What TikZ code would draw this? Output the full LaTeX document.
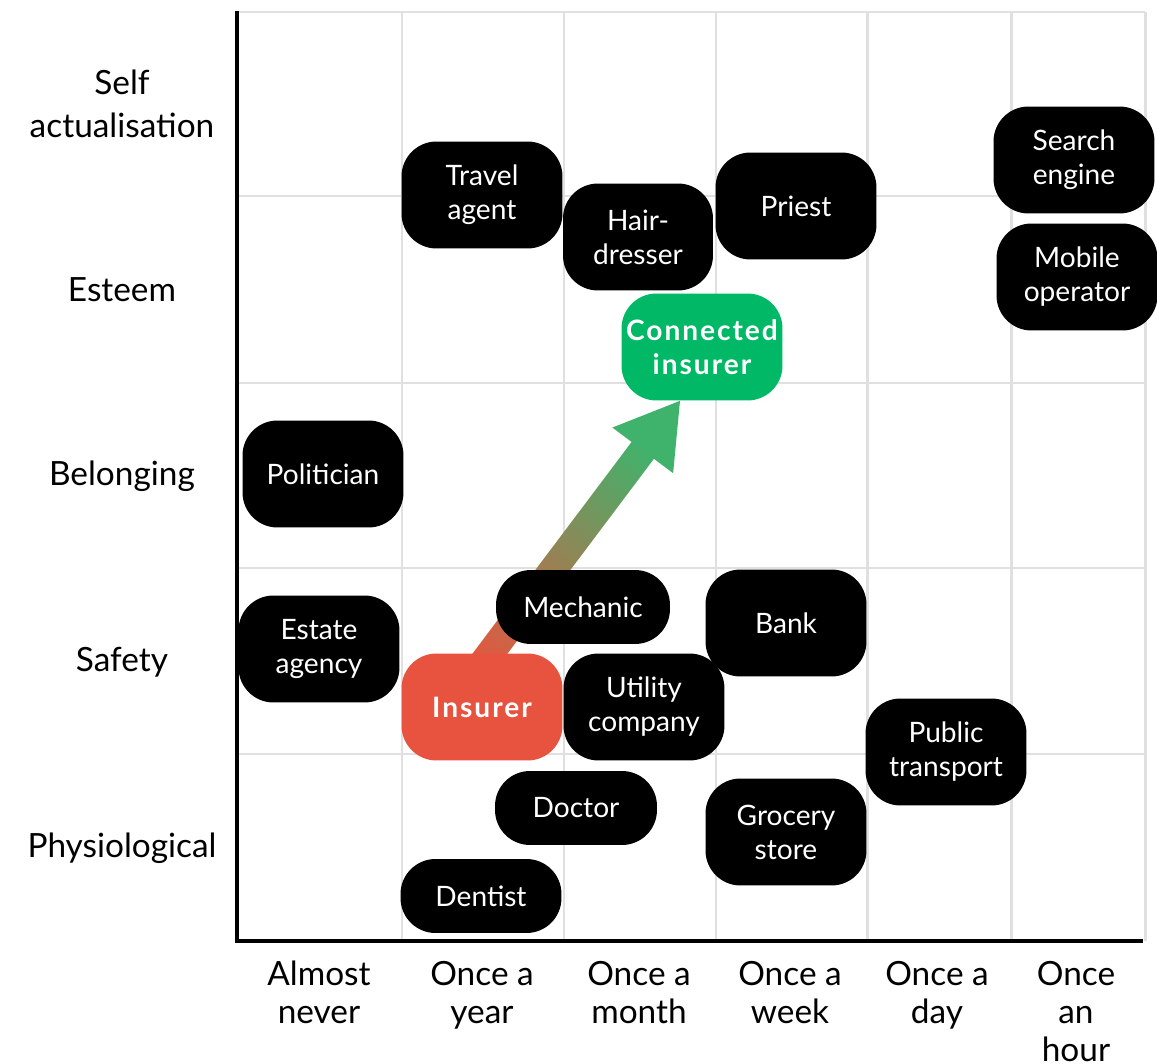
\documentclass[tikz,border=0pt]{standalone}
\usepackage{fontspec}
\setmainfont{Lato}
\newfontfamily\spacedfont[LetterSpace=7]{Lato}
\usepackage{tikz}
\usetikzlibrary{calc,backgrounds}
\definecolor{insurerred}{HTML}{E8533F}
\definecolor{connectgreen}{HTML}{00B865}
\definecolor{gridgrey}{HTML}{E0E0E0}
\definecolor{arrowred}{HTML}{E4573F}
\definecolor{arrowgreen}{HTML}{3FB36C}
\tikzset{
	% Three box styles for the chart: black, red and green
	actor node/.style={rectangle,rounded corners=0.7cm,fill=black,text=white,align=center,
		minimum width=3.22cm,minimum height=2.14cm,inner sep=0,
		font=\fontsize{16}{19.3}\selectfont},
	insurer node/.style={actor node,fill=insurerred,font=\spacedfont\bfseries\fontsize{16}{19.3}\selectfont},
	connected node/.style={actor node,fill=connectgreen,font=\spacedfont\bfseries\fontsize{16}{19.3}\selectfont},
	short node/.style={minimum height=1.48cm},
	axis label/.style={align=center,inner sep=0,font=\fontsize{19}{21.5}\selectfont},
	grid line/.style={draw=gridgrey,line width=1.7pt},
	axis line/.style={draw=black,line width=2.8pt}
}

\begin{document}
\begin{tikzpicture}[x=0.02cm,y=-0.02cm]
			% macros for the labels on both axes
			\newcommand{\levellabel}[3]{\node[axis label](#1)at(122,#2){#3};}
			\newcommand{\freqlabel}[3]{\node[axis label,anchor=north](#1)at(#2,961){#3};}
			\useasboundingbox (0,0) rectangle (1157,1064);
			
			% the two boxes that the arrow joins
			\node(insurer)[insurer node] at (482,707){Insurer};
			\node(connected)[connected node] at (702,347){Connected\\insurer};
			
			\begin{scope}[on background layer]
				% grid
				\foreach \x in {402,564,716,867,1011,1145}
					\draw[grid line] (\x,12) -- (\x,941);
				\foreach \y in {12,196,383,568,754}
					\draw[grid line] (237,\y) -- (1145,\y);
				
				% shaded arrow from insurer to connected insurer
				\coordinate (tip) at ($(connected.south)+(-22,0)$);
				\coordinate (tail) at ($(insurer.north)+(-27,47)$);
				\coordinate (neck) at ($(tip)!1.24cm!(tail)$);
				\shade[bottom color=arrowred,top color=arrowgreen,shading angle=-37]
					($(tail)!0.28cm!90:(tip)$) -- ($(neck)!0.28cm!-90:(tail)$) -- ($(neck)!0.76cm!-90:(tail)$)
					-- (tip) -- ($(neck)!0.76cm!90:(tail)$) -- ($(neck)!0.28cm!90:(tail)$)
					-- ($(tail)!0.28cm!-90:(tip)$) -- cycle;
			\end{scope}
			
			% axes
			\coordinate (ytop) at (237,11);
			\coordinate (origin) at (237,941);
			\coordinate (xend) at (1143,941);
			\draw[axis line] (ytop) -- (origin) -- (xend);
			
			\levellabel{self}{104}{Self\\[3pt]actualisation}
			\levellabel{esteem}{290}{Esteem}
			\levellabel{belonging}{476}{Belonging}
			\levellabel{safety}{662}{Safety}
			\levellabel{physio}{848}{Physiological}
			
			\freqlabel{never}{319}{Almost\\never}
			\freqlabel{year}{482}{Once a\\year}
			\freqlabel{month}{639}{Once a\\month}
			\freqlabel{week}{790}{Once a\\week}
			\freqlabel{day}{937}{Once a\\day}
			\freqlabel{hour}{1076}{Once\\an\\hour}
			
			% black boxes
			\node(travel)[actor node] at (482,195){Travel\\agent};
			\node(hair)[actor node,minimum width=3cm] at (638,237){Hair-\\dresser};
			\node(priest)[actor node] at (796,206){Priest};
			\node(search)[actor node] at (1074,160){Search\\engine};
			\node(mobile)[actor node] at (1077,277){Mobile\\operator};
			\node(politician)[actor node] at (323,474){Politician};
			\node(estate)[actor node] at (319,649){Estate\\agency};
			\node(mechanic)[actor node,short node,minimum width=3.48cm] at (583,607){Mechanic};
			\node(bank)[actor node] at (786,623){Bank};
			\node(utility)[actor node] at (644,707){Utility\\company};
			\node(transport)[actor node] at (946,752){Public\\transport};
			\node(doctor)[actor node,short node,minimum width=3.24cm] at (576,808){Doctor};
			\node(grocery)[actor node] at (786,832){Grocery\\store};
			\node(dentist)[actor node,short node] at (481,896){Dentist};
		\end{tikzpicture}
\end{document}
